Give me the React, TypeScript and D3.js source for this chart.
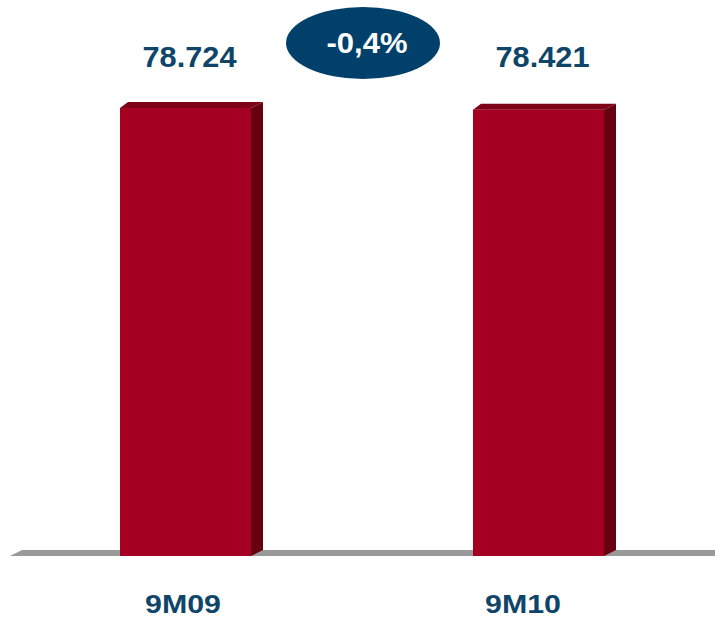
import React from "react";
import * as d3 from "d3";

const categories = ["9M09", "9M10"];
const values = [78.724, 78.421];
const valueLabels = ["78.724", "78.421"];
const changeLabel = "-0,4%";

const W = 715;
const H = 621;
const DX = 12;
const DY = 6;

export default function App() {
  const x = d3.scaleBand<string>().domain(categories).range([-56, 898]).paddingInner(0.63).paddingOuter(0);
  // bars: front from 120 to 251, and 473 to 603
  const xb = d3.scalePoint<string>().domain(categories).range([120, 473]);
  const bw = 131;
  const y = d3.scaleLinear().domain([0, 78.724]).range([556, 108]);
  const xl = d3.scalePoint<string>().domain(categories).range([183, 523]);
  void x;

  const floorY = y(0);
  const floorPath = `M10,${floorY} L715,${floorY} L715,${floorY - DY} L22,${floorY - DY} Z`;

  return (
    <svg width={W} height={H} style={{ position: "absolute", left: 0, top: 0, background: "#fff" }}
      fontFamily="'Liberation Sans', Arial, sans-serif">
      <path d={floorPath} fill="#999999" />
      {categories.map((c, i) => {
        const x0 = xb(c)!;
        const x1 = x0 + bw;
        const yt = y(values[i]);
        const yb = y(0);
        const top = `M${x0},${yt} L${x0 + DX - 4},${yt - DY} L${x1 + DX},${yt - DY} L${x1},${yt} Z`;
        const side = `M${x1},${yt} L${x1 + DX},${yt - DY} L${x1 + DX},${yb - DY} L${x1},${yb} Z`;
        return (
          <g key={c}>
            <path d={side} fill="#66000f" />
            <path d={top} fill="#7d0018" />
            <rect x={x0} y={yt} width={bw} height={yb - yt} fill="#a50021" />
            <text x={x0 + (bw + DX) / 2 - 2} y={67} textAnchor="middle" fontSize={29} fontWeight="bold"
              fill="#0e4569" textLength={94} lengthAdjust="spacingAndGlyphs">{valueLabels[i]}</text>
            <text x={xl(c)!} y={613} textAnchor="middle" fontSize={25} fontWeight="bold"
              fill="#0e4569" textLength={76} lengthAdjust="spacingAndGlyphs">{c}</text>
          </g>
        );
      })}
      <ellipse cx={363} cy={43} rx={77} ry={36} fill="#00406a" />
      <text x={367} y={53} textAnchor="middle" fontSize={29} fontWeight="bold" fill="#ffffff"
        textLength={81} lengthAdjust="spacingAndGlyphs">{changeLabel}</text>
    </svg>
  );
}
